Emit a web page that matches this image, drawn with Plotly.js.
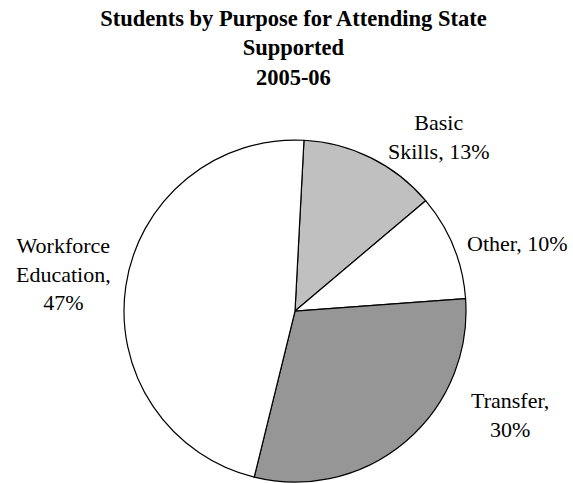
<!DOCTYPE html>
<html>
<head>
<meta charset="utf-8">
<script src="https://cdn.plot.ly/plotly-3.0.1.min.js"></script>
<style>html,body{margin:0;padding:0;background:#fff;}#chart{width:573px;height:483px;}</style>
</head>
<body>
<div id="chart"></div>
<script>
var categories = ["Basic Skills", "Other", "Transfer", "Workforce Education"];
var labelHeads = ["Basic<br>Skills", "Other", "Transfer", "Workforce<br>Education"];
var labelSeps = [", ", ", ", ",<br>", ",<br>"];
var values = [13, 10, 30, 47];
var sliceColors = ["#c0c0c0", "#ffffff", "#969696", "#ffffff"];
var titleText = "Students by Purpose for Attending State<br>Supported<br>2005-06";

var labelPos = [[0.766, 0.717], [0.904, 0.495], [0.890, 0.140], [0.110, 0.432]];
var font = "Liberation Serif, Times New Roman, serif";

var annotations = categories.map(function (c, i) {
  return {
    text: labelHeads[i] + labelSeps[i] + values[i] + "%",
    x: labelPos[i][0], y: labelPos[i][1], xref: "paper", yref: "paper",
    xanchor: "center", yanchor: "middle", showarrow: false, align: "center",
    font: {family: font, size: 22, color: "#000"}
  };
});

var trace = {
  type: "pie",
  labels: categories,
  values: values,
  sort: false,
  direction: "clockwise",
  rotation: 3,
  textinfo: "none",
  hoverinfo: "skip",
  marker: {colors: sliceColors, line: {color: "#000", width: 1.2}},
  domain: {x: [0.2164, 0.8133], y: [0, 0.712]}
};

var layout = {
  width: 573, height: 483,
  margin: {l: 0, r: 0, t: 0, b: 0},
  paper_bgcolor: "#fff",
  showlegend: false,
  title: {text: titleText, x: 0.512, xanchor: "center", yref: "container", y: 0.946, yanchor: "top",
          font: {family: font, size: 22.5, color: "#000", weight: "bold"}},
  annotations: annotations
};

Plotly.newPlot("chart", [trace], layout, {displayModeBar: false, staticPlot: true});
</script>
</body>
</html>
